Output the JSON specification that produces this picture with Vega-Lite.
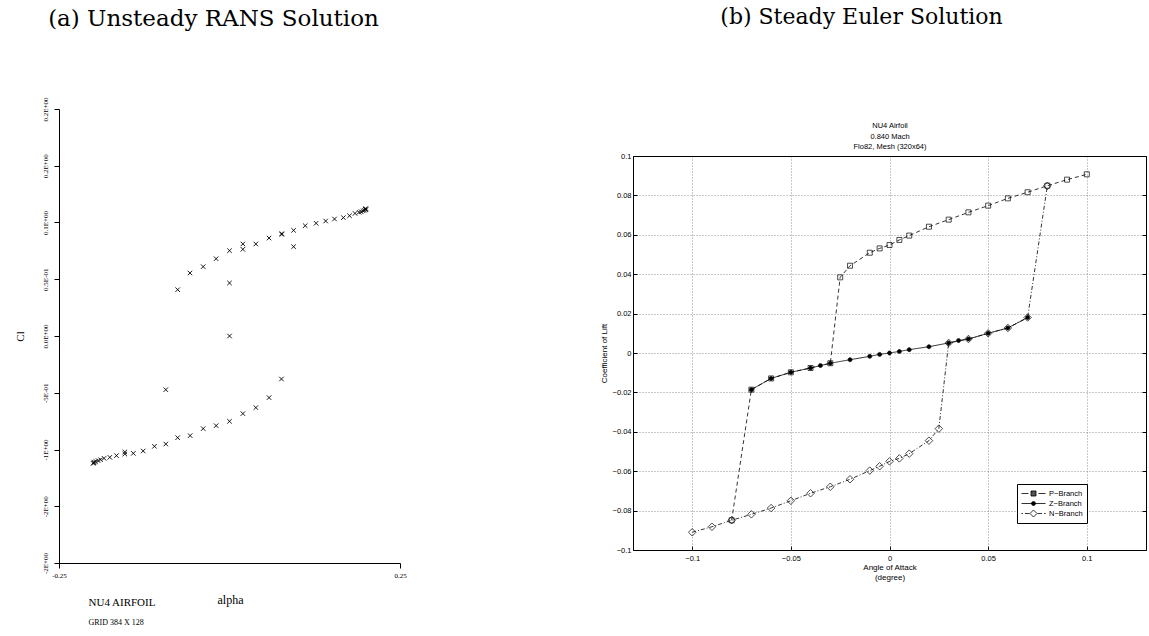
{
  "$schema": "https://vega.github.io/schema/vega-lite/v6.json",
  "background": "white",
  "padding": {"left": 14, "top": 6, "right": 0, "bottom": 0},
  "spacing": 193,
  "config": {
    "view": {"stroke": null},
    "axis": {"labelColor": "black", "tickColor": "black", "domainColor": "black", "titleColor": "black", "labelFlush": false, "labelOverlap": false, "titleFontWeight": "normal"},
    "title": {"color": "black", "fontWeight": "normal"}
  },
  "datasets": {
    "euler": [
      {"b": "P−Branch", "i": 1, "a": -0.08, "c": -0.0849},
      {"b": "P−Branch", "i": 2, "a": -0.07, "c": -0.0186},
      {"b": "P−Branch", "i": 3, "a": -0.06, "c": -0.0129},
      {"b": "P−Branch", "i": 4, "a": -0.05, "c": -0.0098},
      {"b": "P−Branch", "i": 5, "a": -0.04, "c": -0.0076},
      {"b": "P−Branch", "i": 6, "a": -0.03, "c": -0.0052},
      {"b": "P−Branch", "i": 7, "a": -0.025, "c": 0.0384},
      {"b": "P−Branch", "i": 8, "a": -0.02, "c": 0.0443},
      {"b": "P−Branch", "i": 9, "a": -0.01, "c": 0.0509},
      {"b": "P−Branch", "i": 10, "a": -0.005, "c": 0.0531},
      {"b": "P−Branch", "i": 11, "a": 0, "c": 0.0548},
      {"b": "P−Branch", "i": 12, "a": 0.005, "c": 0.0574},
      {"b": "P−Branch", "i": 13, "a": 0.01, "c": 0.0596},
      {"b": "P−Branch", "i": 14, "a": 0.02, "c": 0.0641},
      {"b": "P−Branch", "i": 15, "a": 0.03, "c": 0.0677},
      {"b": "P−Branch", "i": 16, "a": 0.04, "c": 0.0714},
      {"b": "P−Branch", "i": 17, "a": 0.05, "c": 0.0748},
      {"b": "P−Branch", "i": 18, "a": 0.06, "c": 0.0785},
      {"b": "P−Branch", "i": 19, "a": 0.07, "c": 0.0816},
      {"b": "P−Branch", "i": 20, "a": 0.08, "c": 0.0849},
      {"b": "P−Branch", "i": 21, "a": 0.09, "c": 0.088},
      {"b": "P−Branch", "i": 22, "a": 0.1, "c": 0.0907},
      {"b": "Z−Branch", "i": 1, "a": -0.07, "c": -0.0186},
      {"b": "Z−Branch", "i": 2, "a": -0.06, "c": -0.0129},
      {"b": "Z−Branch", "i": 3, "a": -0.05, "c": -0.0098},
      {"b": "Z−Branch", "i": 4, "a": -0.04, "c": -0.0076},
      {"b": "Z−Branch", "i": 5, "a": -0.035, "c": -0.0064},
      {"b": "Z−Branch", "i": 6, "a": -0.03, "c": -0.0052},
      {"b": "Z−Branch", "i": 7, "a": -0.02, "c": -0.0034},
      {"b": "Z−Branch", "i": 8, "a": -0.01, "c": -0.0017},
      {"b": "Z−Branch", "i": 9, "a": -0.005, "c": -0.0007},
      {"b": "Z−Branch", "i": 10, "a": 0, "c": 0.0},
      {"b": "Z−Branch", "i": 11, "a": 0.005, "c": 0.0008},
      {"b": "Z−Branch", "i": 12, "a": 0.01, "c": 0.0017},
      {"b": "Z−Branch", "i": 13, "a": 0.02, "c": 0.0032},
      {"b": "Z−Branch", "i": 14, "a": 0.03, "c": 0.0051},
      {"b": "Z−Branch", "i": 15, "a": 0.035, "c": 0.0063},
      {"b": "Z−Branch", "i": 16, "a": 0.04, "c": 0.0071},
      {"b": "Z−Branch", "i": 17, "a": 0.05, "c": 0.01},
      {"b": "Z−Branch", "i": 18, "a": 0.06, "c": 0.0127},
      {"b": "Z−Branch", "i": 19, "a": 0.07, "c": 0.018},
      {"b": "N−Branch", "i": 1, "a": -0.1, "c": -0.091},
      {"b": "N−Branch", "i": 2, "a": -0.09, "c": -0.0882},
      {"b": "N−Branch", "i": 3, "a": -0.08, "c": -0.0849},
      {"b": "N−Branch", "i": 4, "a": -0.07, "c": -0.0819},
      {"b": "N−Branch", "i": 5, "a": -0.06, "c": -0.0787},
      {"b": "N−Branch", "i": 6, "a": -0.05, "c": -0.075},
      {"b": "N−Branch", "i": 7, "a": -0.04, "c": -0.0712},
      {"b": "N−Branch", "i": 8, "a": -0.03, "c": -0.0679},
      {"b": "N−Branch", "i": 9, "a": -0.02, "c": -0.0641},
      {"b": "N−Branch", "i": 10, "a": -0.01, "c": -0.0597},
      {"b": "N−Branch", "i": 11, "a": -0.005, "c": -0.0575},
      {"b": "N−Branch", "i": 12, "a": 0, "c": -0.055},
      {"b": "N−Branch", "i": 13, "a": 0.005, "c": -0.0535},
      {"b": "N−Branch", "i": 14, "a": 0.01, "c": -0.0511},
      {"b": "N−Branch", "i": 15, "a": 0.02, "c": -0.0445},
      {"b": "N−Branch", "i": 16, "a": 0.025, "c": -0.0384},
      {"b": "N−Branch", "i": 17, "a": 0.03, "c": 0.0051},
      {"b": "N−Branch", "i": 18, "a": 0.04, "c": 0.0071},
      {"b": "N−Branch", "i": 19, "a": 0.05, "c": 0.01},
      {"b": "N−Branch", "i": 20, "a": 0.06, "c": 0.0127},
      {"b": "N−Branch", "i": 21, "a": 0.07, "c": 0.018},
      {"b": "N−Branch", "i": 22, "a": 0.08, "c": 0.0849}
    ]
  },
  "hconcat": [
    {
      "width": 341,
      "height": 454,
      "title": {"text": "(a) Unsteady RANS Solution", "font": "DejaVu Serif", "fontSize": 23, "anchor": "middle", "frame": "group", "dx": -16, "offset": 66},
      "data": {"values": [
        {"a": -0.076, "c": 0.0408}, {"a": -0.058, "c": 0.0555}, {"a": -0.0386, "c": 0.0611}, {"a": -0.0196, "c": 0.0681},
        {"a": 0, "c": 0.0752}, {"a": 0.0196, "c": 0.0764}, {"a": 0.0196, "c": 0.0811}, {"a": 0.0386, "c": 0.0811},
        {"a": 0.058, "c": 0.0863}, {"a": 0.0767, "c": 0.0902}, {"a": 0.0767, "c": 0.0895}, {"a": 0.094, "c": 0.0931},
        {"a": 0.111, "c": 0.0972}, {"a": 0.127, "c": 0.0993}, {"a": 0.141, "c": 0.1013}, {"a": 0.154, "c": 0.1031},
        {"a": 0.167, "c": 0.1043}, {"a": 0.176, "c": 0.106}, {"a": 0.184, "c": 0.108}, {"a": 0.19, "c": 0.109},
        {"a": 0.193, "c": 0.1095}, {"a": 0.196, "c": 0.1102}, {"a": 0.198, "c": 0.1108}, {"a": 0.2, "c": 0.1113},
        {"a": 0.199, "c": 0.1118}, {"a": 0.2, "c": 0.1122},
        {"a": 0, "c": 0.0467}, {"a": 0, "c": 0.0}, {"a": 0.094, "c": 0.0787}, {"a": -0.0934, "c": -0.0473},
        {"a": -0.2, "c": -0.1122}, {"a": -0.199, "c": -0.1116}, {"a": -0.198, "c": -0.1111}, {"a": -0.196, "c": -0.1105},
        {"a": -0.1926, "c": -0.1098}, {"a": -0.189, "c": -0.109}, {"a": -0.184, "c": -0.1078}, {"a": -0.1755, "c": -0.1069},
        {"a": -0.1657, "c": -0.1054}, {"a": -0.1535, "c": -0.104}, {"a": -0.1535, "c": -0.1022}, {"a": -0.141, "c": -0.1034},
        {"a": -0.1266, "c": -0.1013}, {"a": -0.11, "c": -0.0972}, {"a": -0.0934, "c": -0.0952}, {"a": -0.076, "c": -0.0896},
        {"a": -0.0577, "c": -0.0878}, {"a": -0.0386, "c": -0.0816}, {"a": -0.0196, "c": -0.079}, {"a": 0, "c": -0.0752},
        {"a": 0.0196, "c": -0.0684}, {"a": 0.0386, "c": -0.0631}, {"a": 0.058, "c": -0.0543}, {"a": 0.0762, "c": -0.0379}
      ]},
      "layer": [
        {
          "mark": {"type": "point", "shape": "M-1,-1L1,1M-1,1L1,-1", "size": 20, "stroke": "black", "strokeWidth": 0.9, "opacity": 1},
          "encoding": {
            "x": {"field": "a", "type": "quantitative", "scale": {"domain": [-0.25, 0.25], "nice": false, "zero": false},
              "axis": {"orient": "bottom", "values": [-0.25, 0.25], "labelExpr": "datum.value < 0 ? '-0.25' : '0.25'", "labelAngle": 0, "labelFont": "Liberation Serif", "labelFontSize": 7, "labelPadding": 3, "tickSize": 5, "grid": false,
                "title": "alpha", "titleFont": "Liberation Serif", "titleFontSize": 12, "titleX": 158, "titleY": 40, "titleAlign": "left", "titleBaseline": "alphabetic", "titleAngle": 0}},
            "y": {"field": "c", "type": "quantitative", "scale": {"domain": [-0.2, 0.2], "nice": false, "zero": false},
              "axis": {"orient": "left", "values": [-0.2, -0.15, -0.1, -0.05, 0, 0.05, 0.1, 0.15, 0.2],
                "labelExpr": "datum.value > 0.12 ? '0.2E+00' : datum.value > 0.07 ? '0.1E+00' : datum.value > 0.02 ? '0.5E-01' : datum.value > -0.02 ? '0.0E+00' : datum.value > -0.07 ? '-5E-01' : datum.value > -0.12 ? '-1E+00' : '-2E+00'",
                "labelAngle": 270, "labelAlign": "center", "labelBaseline": "bottom", "labelFont": "Liberation Serif", "labelFontSize": 7, "labelPadding": 6, "tickSize": 5, "grid": false,
                "title": "Cl", "titleFont": "Liberation Serif", "titleFontSize": 11, "titleAngle": 270, "titleX": -39, "titleY": 227, "titleAlign": "center", "titleBaseline": "middle"}}
          }
        },
        {
          "mark": {"type": "point", "opacity": 0},
          "encoding": {
            "x": {"field": "a", "type": "quantitative",
              "axis": {"orient": "bottom", "domain": false, "ticks": false, "labels": false, "grid": false,
                "title": "NU4 AIRFOIL", "titleFont": "Liberation Serif", "titleFontSize": 11, "titleX": 29, "titleY": 42, "titleAlign": "left", "titleBaseline": "alphabetic", "titleAngle": 0}},
            "y": {"field": "c", "type": "quantitative"}
          }
        },
        {
          "mark": {"type": "point", "opacity": 0},
          "encoding": {
            "x": {"field": "a", "type": "quantitative",
              "axis": {"orient": "bottom", "domain": false, "ticks": false, "labels": false, "grid": false,
                "title": "GRID  384 X  128", "titleFont": "Liberation Serif", "titleFontSize": 8, "titleX": 29, "titleY": 61, "titleAlign": "left", "titleBaseline": "alphabetic", "titleAngle": 0}},
            "y": {"field": "c", "type": "quantitative"}
          }
        }
      ],
      "resolve": {"axis": {"x": "independent"}}
    },
    {
      "width": 513,
      "height": 441,
      "title": {"text": "(b) Steady Euler Solution", "font": "DejaVu Serif", "fontSize": 22, "anchor": "middle", "frame": "group", "dx": -28, "offset": 80},
      "data": {"name": "euler"},
      "layer": [
        {
          "mark": {"type": "line", "stroke": "black", "strokeWidth": 0.8},
          "encoding": {
            "x": {"field": "a", "type": "quantitative", "scale": {"domain": [-0.13, 0.13], "nice": false, "zero": false},
              "axis": {"orient": "bottom", "values": [-0.1, -0.05, 0, 0.05, 0.1], "format": ".2~f", "grid": false,
                "tickSize": -4, "labelPadding": 8, "labelFont": "Liberation Sans", "labelFontSize": 7.5, "domainWidth": 1,
                "title": ["Angle of Attack", "(degree)"], "titleFont": "Liberation Sans", "titleFontSize": 8, "titleLineHeight": 10, "titlePadding": 2}},
            "y": {"field": "c", "type": "quantitative", "scale": {"domain": [-0.1, 0.1], "nice": false, "zero": false, "range": [441, 47]},
              "axis": {"orient": "left", "values": [-0.1, -0.08, -0.06, -0.04, -0.02, 0, 0.02, 0.04, 0.06, 0.08, 0.1], "format": ".2~f", "grid": true, "gridColor": "#666", "gridDash": [1, 2], "gridWidth": 0.7,
                "tickSize": -4, "labelPadding": 6, "labelFont": "Liberation Sans", "labelFontSize": 7.5, "domainWidth": 1,
                "title": "Coefficient of Lift", "titleFont": "Liberation Sans", "titleFontSize": 8, "titlePadding": 4}},
            "detail": {"field": "b"},
            "order": {"field": "i", "type": "quantitative"},
            "strokeDash": {"field": "b", "type": "nominal", "scale": {"domain": ["N−Branch", "P−Branch", "Z−Branch"], "range": [[4, 2, 1, 2], [4, 3], [1, 0]]}, "legend": null}
          }
        },
        {
          "mark": {"type": "point", "size": 100, "stroke": "black", "strokeWidth": 0.7, "opacity": 1, "filled": true},
          "encoding": {
            "x": {"field": "a", "type": "quantitative", "axis": null},
            "y": {"field": "c", "type": "quantitative", "axis": null},
            "shape": {"field": "b", "type": "nominal",
              "scale": {"domain": ["Z−Branch", "N−Branch", "P−Branch"], "range": ["M-0.4,0A0.4,0.4 0 1,1 0.4,0A0.4,0.4 0 1,1 -0.4,0Z", "M0,-0.75L0.75,0L0,0.75L-0.75,0Z", "M-0.5,-0.5H0.5V0.5H-0.5Z"]},
              "legend": null},
            "fill": {"field": "b", "type": "nominal", "scale": {"domain": ["Z−Branch", "N−Branch", "P−Branch"], "range": ["black", "transparent", "transparent"]}, "legend": null}
          }
        },
        {
          "mark": {"type": "point", "size": 100, "stroke": "black", "strokeWidth": 0.8, "opacity": 0, "filled": true},
          "encoding": {
            "x": {"field": "a", "type": "quantitative", "axis": null},
            "y": {"field": "c", "type": "quantitative", "axis": null},
            "shape": {"field": "b", "type": "nominal",
              "scale": {"domain": ["P−Branch", "Z−Branch", "N−Branch"], "range": [
                "M-1,0H0.4M2.4,0H3.8M0.9,-0.5H1.9V0.5H0.9Z",
                "M-1,0H3.8M1,0A0.4,0.4 0 1,1 1.8,0A0.4,0.4 0 1,1 1,0Z",
                "M-1,0H-0.7M-0.3,0H0.6M2.2,0H3.1M3.5,0H3.8M1.4,-0.7L2.1,0L1.4,0.7L0.7,0Z"]},
              "legend": {"title": null, "orient": "none", "legendX": 384, "legendY": 375, "direction": "vertical",
                "symbolOpacity": 1, "symbolStrokeColor": "black", "symbolStrokeWidth": 0.8,
                "labelFont": "Liberation Sans", "labelFontSize": 7.5, "labelColor": "black", "labelOffset": 17, "padding": 4,
                "strokeColor": "black", "fillColor": "white", "rowPadding": 0}},
            "fill": {"field": "b", "type": "nominal", "scale": {"domain": ["P−Branch", "Z−Branch", "N−Branch"], "range": ["#555", "black", "white"]},
              "legend": {"title": null, "orient": "none", "legendX": 384, "legendY": 375, "direction": "vertical",
                "symbolOpacity": 1, "symbolStrokeColor": "black", "symbolStrokeWidth": 0.8,
                "labelFont": "Liberation Sans", "labelFontSize": 7.5, "labelColor": "black", "labelOffset": 17, "padding": 4,
                "strokeColor": "black", "fillColor": "white", "rowPadding": 0}},
            "stroke": {"field": "b", "type": "nominal", "scale": {"domain": ["P−Branch", "Z−Branch", "N−Branch"], "range": ["black", "black", "black"]},
              "legend": {"title": null, "orient": "none", "legendX": 384, "legendY": 375, "direction": "vertical",
                "symbolOpacity": 1, "symbolStrokeWidth": 0.8,
                "labelFont": "Liberation Sans", "labelFontSize": 7.5, "labelColor": "black", "labelOffset": 17, "padding": 4,
                "strokeColor": "black", "fillColor": "white", "rowPadding": 0}}
          }
        },
        {
          "mark": {"type": "point", "opacity": 0},
          "encoding": {
            "x": {"field": "a", "type": "quantitative",
              "axis": {"orient": "top", "offset": -47, "values": [-0.1, -0.05, 0, 0.05, 0.1], "labels": false, "tickSize": -394, "tickColor": "#666", "tickDash": [1, 2], "tickWidth": 0.7, "domain": true, "domainWidth": 1, "grid": false,
                "title": ["NU4 Airfoil", "0.840 Mach", "Flo82, Mesh (320x64)"], "titleFont": "Liberation Sans", "titleFontSize": 7.5, "titleLineHeight": 10.5, "titlePadding": 5}},
            "y": {"field": "c", "type": "quantitative",
              "axis": {"orient": "right", "values": [-0.1, -0.08, -0.06, -0.04, -0.02, 0, 0.02, 0.04, 0.06, 0.08, 0.1], "labels": false, "tickSize": -4, "domain": true, "domainWidth": 1, "grid": false, "title": null}}
          }
        }
      ],
      "resolve": {"axis": {"x": "independent", "y": "independent"}, "scale": {"shape": "independent", "fill": "independent", "stroke": "independent"}}
    }
  ]
}
